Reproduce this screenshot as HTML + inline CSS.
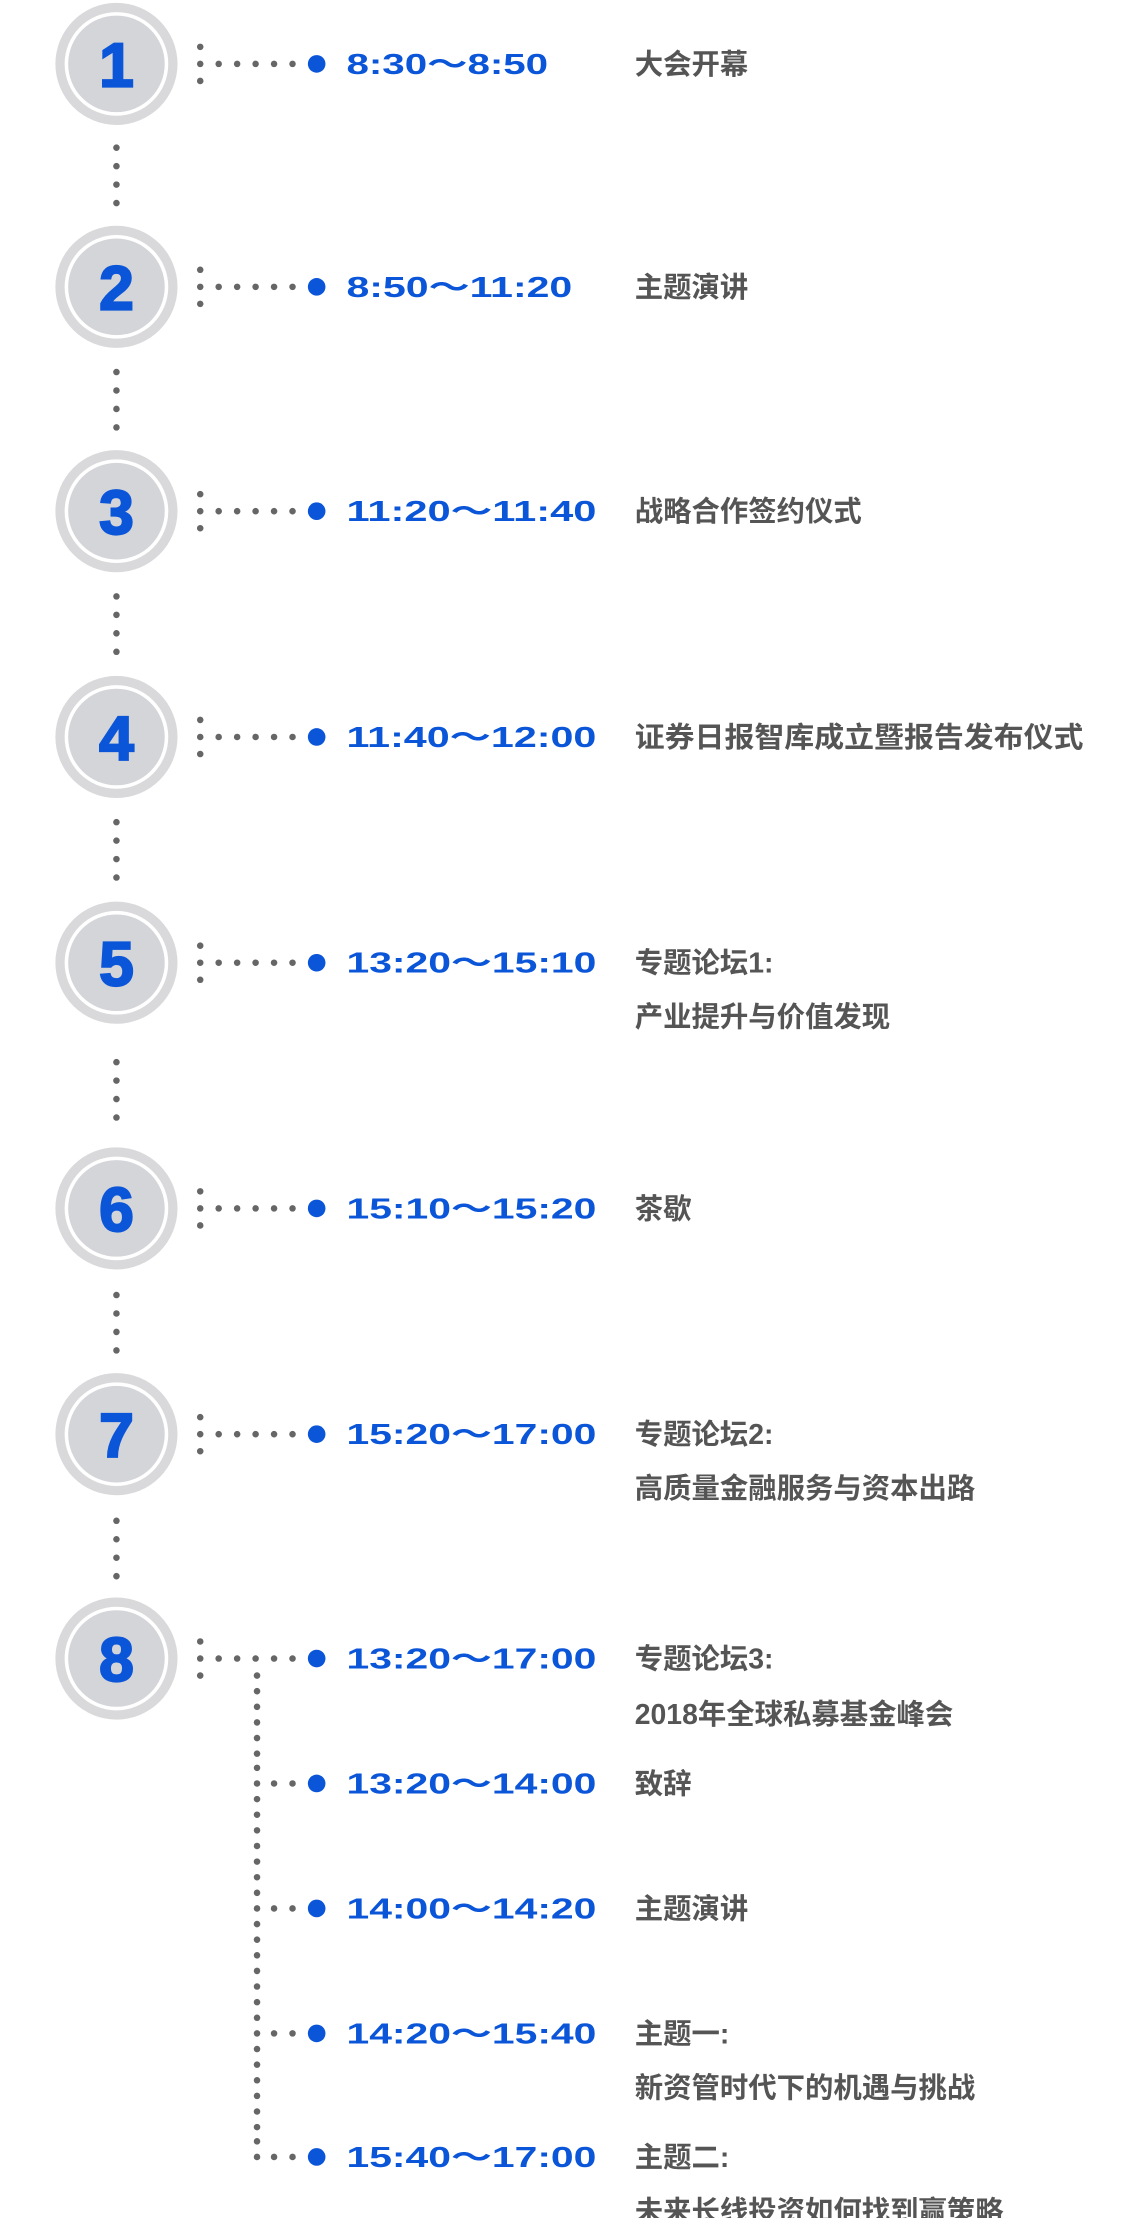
<!DOCTYPE html>
<html><head><meta charset="utf-8"><style>
html,body{margin:0;padding:0;background:#fff;}
svg{display:block;}
.n{font-family:"Liberation Sans",sans-serif;font-weight:bold;font-size:44px;fill:#0a55d8;stroke:#0a55d8;stroke-width:1.5;}
.t{font-family:"Liberation Sans","Noto Sans CJK SC",sans-serif;font-weight:bold;font-size:20px;fill:#0a55d8;}
.d{font-family:"Liberation Sans","Noto Sans CJK SC",sans-serif;font-weight:bold;font-size:20px;fill:#555;}
</style></head><body>
<svg width="1136" height="2218" viewBox="0 0 800 1562" xmlns="http://www.w3.org/2000/svg">
<defs>
<g id="c">
<circle cx="0" cy="0" r="43" fill="#d9d9db"/>
<circle cx="0" cy="0" r="36.5" fill="#fff"/>
<circle cx="0" cy="0" r="34" fill="#d4d5d9"/>
</g>
<g id="h" fill="#666">
<circle cx="141" cy="-12" r="2.3"/><circle cx="141" cy="0" r="2.3"/><circle cx="141" cy="12" r="2.3"/>
<circle cx="154" cy="0" r="2.3"/><circle cx="167" cy="0" r="2.3"/><circle cx="180" cy="0" r="2.3"/><circle cx="193" cy="0" r="2.3"/><circle cx="206" cy="0" r="2.3"/>
<circle cx="223" cy="0" r="6.2" fill="#0a55d8"/>
</g>
<g id="s" fill="#666">
<circle cx="181" cy="0" r="2.3"/><circle cx="193" cy="0" r="2.3"/><circle cx="206" cy="0" r="2.3"/>
<circle cx="223" cy="0" r="6.2" fill="#0a55d8"/>
</g>
<g id="v" fill="#666">
<circle cx="82" cy="0" r="2.3"/><circle cx="82" cy="13" r="2.3"/><circle cx="82" cy="26" r="2.3"/><circle cx="82" cy="39" r="2.3"/>
</g>
</defs>

<use href="#c" x="82" y="45"/><use href="#c" x="82" y="202"/><use href="#c" x="82" y="360"/><use href="#c" x="82" y="519"/>
<use href="#c" x="82" y="678"/><use href="#c" x="82" y="851"/><use href="#c" x="82" y="1010"/><use href="#c" x="82" y="1168"/>
<text class="n" x="82" y="61" text-anchor="middle">1</text>
<text class="n" x="82" y="218" text-anchor="middle">2</text>
<text class="n" x="82" y="376" text-anchor="middle">3</text>
<text class="n" x="82" y="535" text-anchor="middle">4</text>
<text class="n" x="82" y="694" text-anchor="middle">5</text>
<text class="n" x="82" y="867" text-anchor="middle">6</text>
<text class="n" x="82" y="1026" text-anchor="middle">7</text>
<text class="n" x="82" y="1184" text-anchor="middle">8</text>

<use href="#v" y="104"/><use href="#v" y="262"/><use href="#v" y="420"/><use href="#v" y="579"/>
<use href="#v" y="748"/><use href="#v" y="912"/><use href="#v" y="1071"/>

<use href="#h" y="45"/><use href="#h" y="202"/><use href="#h" y="360"/><use href="#h" y="519"/>
<use href="#h" y="678"/><use href="#h" y="851"/><use href="#h" y="1010"/><use href="#h" y="1168"/>

<g fill="#666">
<circle cx="181" cy="1180" r="2.3"/><circle cx="181" cy="1191" r="2.3"/><circle cx="181" cy="1202" r="2.3"/><circle cx="181" cy="1213" r="2.3"/><circle cx="181" cy="1224" r="2.3"/><circle cx="181" cy="1235" r="2.3"/><circle cx="181" cy="1245" r="2.3"/>
<circle cx="181" cy="1267" r="2.3"/><circle cx="181" cy="1278" r="2.3"/><circle cx="181" cy="1289" r="2.3"/><circle cx="181" cy="1300" r="2.3"/><circle cx="181" cy="1311" r="2.3"/><circle cx="181" cy="1322" r="2.3"/><circle cx="181" cy="1333" r="2.3"/>
<circle cx="181" cy="1355" r="2.3"/><circle cx="181" cy="1366" r="2.3"/><circle cx="181" cy="1377" r="2.3"/><circle cx="181" cy="1388" r="2.3"/><circle cx="181" cy="1399" r="2.3"/><circle cx="181" cy="1410" r="2.3"/><circle cx="181" cy="1421" r="2.3"/>
<circle cx="181" cy="1443" r="2.3"/><circle cx="181" cy="1454" r="2.3"/><circle cx="181" cy="1465" r="2.3"/><circle cx="181" cy="1476" r="2.3"/><circle cx="181" cy="1487" r="2.3"/><circle cx="181" cy="1498" r="2.3"/><circle cx="181" cy="1508" r="2.3"/>
</g>
<use href="#s" y="1256"/><use href="#s" y="1344"/><use href="#s" y="1432"/><use href="#s" y="1519"/>

<text class="t" x="244" y="52" textLength="142" lengthAdjust="spacingAndGlyphs">8:30～8:50</text>
<text class="t" x="244" y="209" textLength="159" lengthAdjust="spacingAndGlyphs">8:50～11:20</text>
<text class="t" x="244" y="367" textLength="176" lengthAdjust="spacingAndGlyphs">11:20～11:40</text>
<text class="t" x="244" y="526" textLength="176" lengthAdjust="spacingAndGlyphs">11:40～12:00</text>
<text class="t" x="244" y="685" textLength="176" lengthAdjust="spacingAndGlyphs">13:20～15:10</text>
<text class="t" x="244" y="858" textLength="176" lengthAdjust="spacingAndGlyphs">15:10～15:20</text>
<text class="t" x="244" y="1017" textLength="176" lengthAdjust="spacingAndGlyphs">15:20～17:00</text>
<text class="t" x="244" y="1175" textLength="176" lengthAdjust="spacingAndGlyphs">13:20～17:00</text>
<text class="t" x="244" y="1263" textLength="176" lengthAdjust="spacingAndGlyphs">13:20～14:00</text>
<text class="t" x="244" y="1351" textLength="176" lengthAdjust="spacingAndGlyphs">14:00～14:20</text>
<text class="t" x="244" y="1439" textLength="176" lengthAdjust="spacingAndGlyphs">14:20～15:40</text>
<text class="t" x="244" y="1526" textLength="176" lengthAdjust="spacingAndGlyphs">15:40～17:00</text>

<text class="d" x="447" y="52">大会开幕</text>
<text class="d" x="447" y="209">主题演讲</text>
<text class="d" x="447" y="367">战略合作签约仪式</text>
<text class="d" x="447" y="526" textLength="316" lengthAdjust="spacingAndGlyphs">证券日报智库成立暨报告发布仪式</text>
<text class="d" x="447" y="685">专题论坛1:</text>
<text class="d" x="447" y="723">产业提升与价值发现</text>
<text class="d" x="447" y="858">茶歇</text>
<text class="d" x="447" y="1017">专题论坛2:</text>
<text class="d" x="447" y="1055">高质量金融服务与资本出路</text>
<text class="d" x="447" y="1175">专题论坛3:</text>
<text class="d" x="447" y="1214">2018年全球私募基金峰会</text>
<text class="d" x="447" y="1263">致辞</text>
<text class="d" x="447" y="1351">主题演讲</text>
<text class="d" x="447" y="1439">主题一:</text>
<text class="d" x="447" y="1477">新资管时代下的机遇与挑战</text>
<text class="d" x="447" y="1526">主题二:</text>
<text class="d" x="447" y="1564">未来长线投资如何找到赢策略</text>
</svg>
</body></html>
